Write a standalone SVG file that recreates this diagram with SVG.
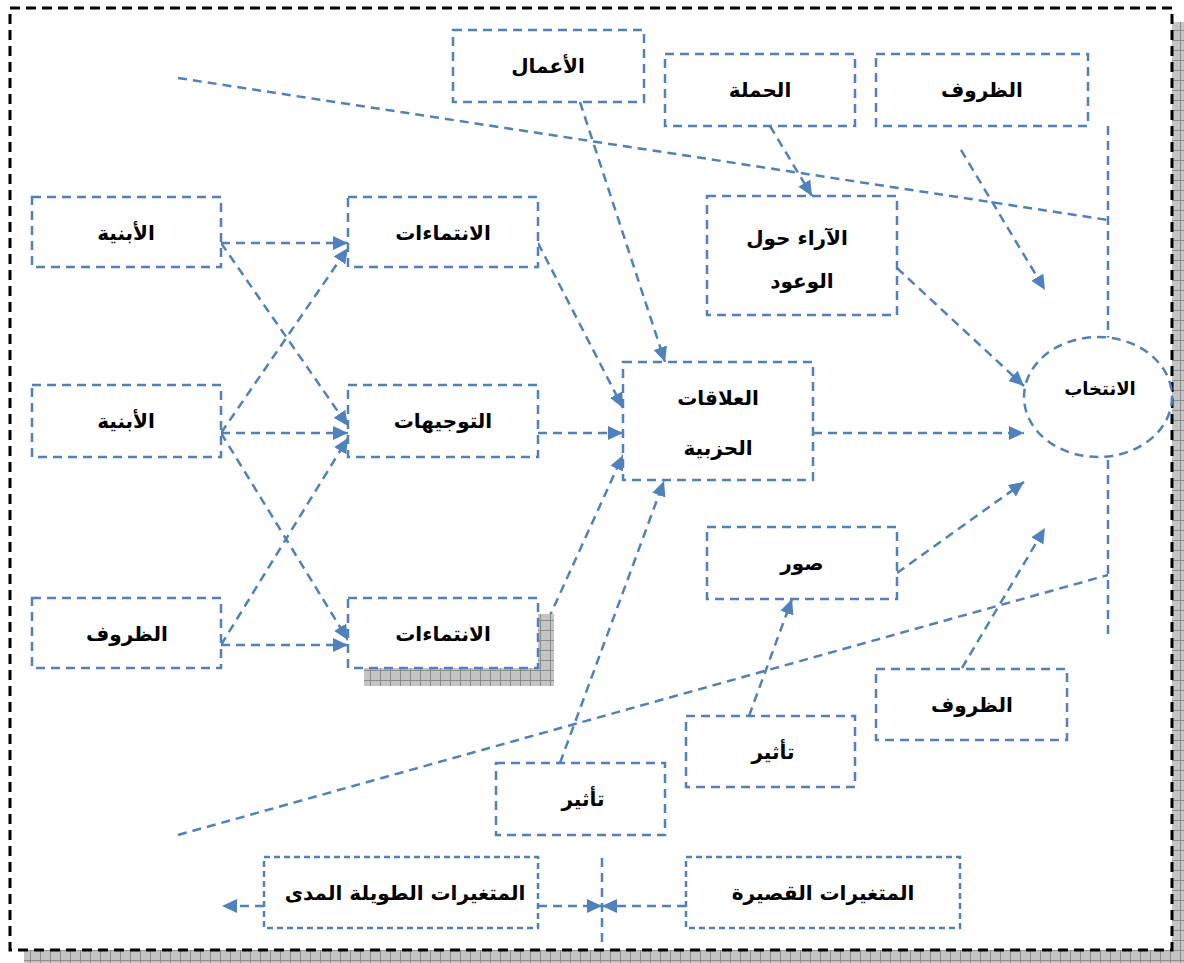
<svg xmlns="http://www.w3.org/2000/svg" width="1184" height="963" viewBox="0 0 1184 963">
<style>
.box{fill:#fff;stroke:#4F81BD;stroke-width:2.5;stroke-dasharray:9 6}
.sm{stroke-dasharray:6 4}
.ln{fill:none;stroke:#4F81BD;stroke-width:2.5;stroke-dasharray:9 6}
.ar{marker-end:url(#ah)}
.t{font-family:"DejaVu Sans","Noto Sans",sans-serif;font-weight:bold;font-size:20px;text-anchor:middle;fill:#000}
.frame{fill:#fff;stroke:#000;stroke-width:3;stroke-dasharray:10 6}
</style>
<defs>
<pattern id="hatch" width="10" height="10" patternUnits="userSpaceOnUse">
<rect width="10" height="10" fill="#c4c4c4"/>
<path d="M0 0.5H10M0.5 0V10" stroke="#8c8c8c" stroke-width="1"/>
</pattern>
<marker id="ah" markerUnits="userSpaceOnUse" markerWidth="16" markerHeight="16" refX="15" refY="8" orient="auto" viewBox="0 0 16 16">
<path d="M0 1L15 8L0 15Z" fill="#4F81BD"/>
</marker>
</defs>
<rect x="0" y="0" width="1184" height="963" fill="#fff"/>
<rect x="24" y="22" width="1160" height="941" fill="url(#hatch)"/>
<rect class="frame" x="10" y="8" width="1162" height="942"/>

<g id="connectors">
<path class="ln" d="M178 78L1108 220"/>
<path class="ln" d="M178 835L1108 575"/>
<path class="ln" d="M1108 126V338"/>
<path class="ln" d="M1108 460V640"/>
<path class="ln" d="M602 858V945"/>
<path class="ln ar" d="M221 243H348"/>
<path class="ln ar" d="M221 243L348 426"/>
<path class="ln ar" d="M221 433L348 248"/>
<path class="ln ar" d="M221 433H348"/>
<path class="ln ar" d="M221 433L348 640"/>
<path class="ln ar" d="M221 645L348 438"/>
<path class="ln ar" d="M221 645H348"/>
<path class="ln ar" d="M538 243L623 408"/>
<path class="ln ar" d="M538 433H623"/>
<path class="ln ar" d="M548 620L623 455"/>
<path class="ln ar" d="M560 763L664 481"/>
<path class="ln ar" d="M580 102L665 362"/>
<path class="ln ar" d="M770 126L812 196"/>
<path class="ln ar" d="M961 150L1045 290"/>
<path class="ln ar" d="M897 268L1024 386"/>
<path class="ln ar" d="M813 433H1024"/>
<path class="ln ar" d="M897 573L1024 482"/>
<path class="ln ar" d="M962 668L1045 528"/>
<path class="ln ar" d="M749 716L792 599"/>
<path class="ln ar" d="M264 906H222"/>
<path class="ln ar" d="M538 906H602"/>
<path class="ln ar" d="M686 906H602"/>
</g>

<g id="n-amal"><rect class="box" x="453" y="30" width="191" height="72"/><text class="t" x="548" y="73">الأعمال</text></g>
<g id="n-hamla"><rect class="box" x="665" y="54" width="190" height="72"/><text class="t" x="760" y="97">الحملة</text></g>
<g id="n-zurouf-top"><rect class="box" x="876" y="54" width="212" height="72"/><text class="t" x="982" y="97">الظروف</text></g>
<g id="n-araa"><rect class="box" x="707" y="196" width="190" height="119"/><text class="t" x="797" y="245">الآراء حول</text><text class="t" x="802" y="288">الوعود</text></g>
<g id="n-abnia1"><rect class="box" x="32" y="197" width="189" height="70"/><text class="t" x="126" y="240">الأبنية</text></g>
<g id="n-intima1"><rect class="box" x="348" y="197" width="190" height="70"/><text class="t" x="443" y="240">الانتماءات</text></g>
<g id="n-abnia2"><rect class="box" x="32" y="385" width="189" height="72"/><text class="t" x="126" y="428">الأبنية</text></g>
<g id="n-tawjih"><rect class="box" x="348" y="385" width="190" height="72"/><text class="t" x="443" y="428">التوجيهات</text></g>
<g id="n-alaqat"><rect class="box" x="623" y="362" width="190" height="118"/><text class="t" x="718" y="405">العلاقات</text><text class="t" x="718" y="455">الحزبية</text></g>
<g id="n-intikhab"><ellipse class="box" cx="1098" cy="397" rx="74" ry="60"/><text class="t" x="1100" y="395" style="font-size:18px">الانتخاب</text></g>
<g id="n-zurouf-left"><rect class="box" x="32" y="598" width="189" height="70"/><text class="t" x="127" y="641">الظروف</text></g>
<g id="n-intima2"><rect x="364" y="614" width="190" height="72" fill="url(#hatch)"/><rect class="box" x="348" y="598" width="190" height="70"/><text class="t" x="443" y="641">الانتماءات</text></g>
<g id="n-suwar"><rect class="box" x="707" y="527" width="190" height="72"/><text class="t" x="802" y="570">صور</text></g>
<g id="n-tathir1"><rect class="box" x="686" y="716" width="169" height="71"/><text class="t" x="773" y="759">تأثير</text></g>
<g id="n-zurouf-bot"><rect class="box" x="876" y="669" width="191" height="71"/><text class="t" x="972" y="712">الظروف</text></g>
<g id="n-tathir2"><rect class="box" x="496" y="763" width="169" height="72"/><text class="t" x="583" y="806">تأثير</text></g>
<g id="n-long"><rect class="box sm" x="264" y="857" width="274" height="71"/><text class="t" x="405" y="900">المتغيرات الطويلة المدى</text></g>
<g id="n-short"><rect class="box sm" x="686" y="857" width="274" height="71"/><text class="t" x="823" y="900">المتغيرات القصيرة</text></g>
</svg>
